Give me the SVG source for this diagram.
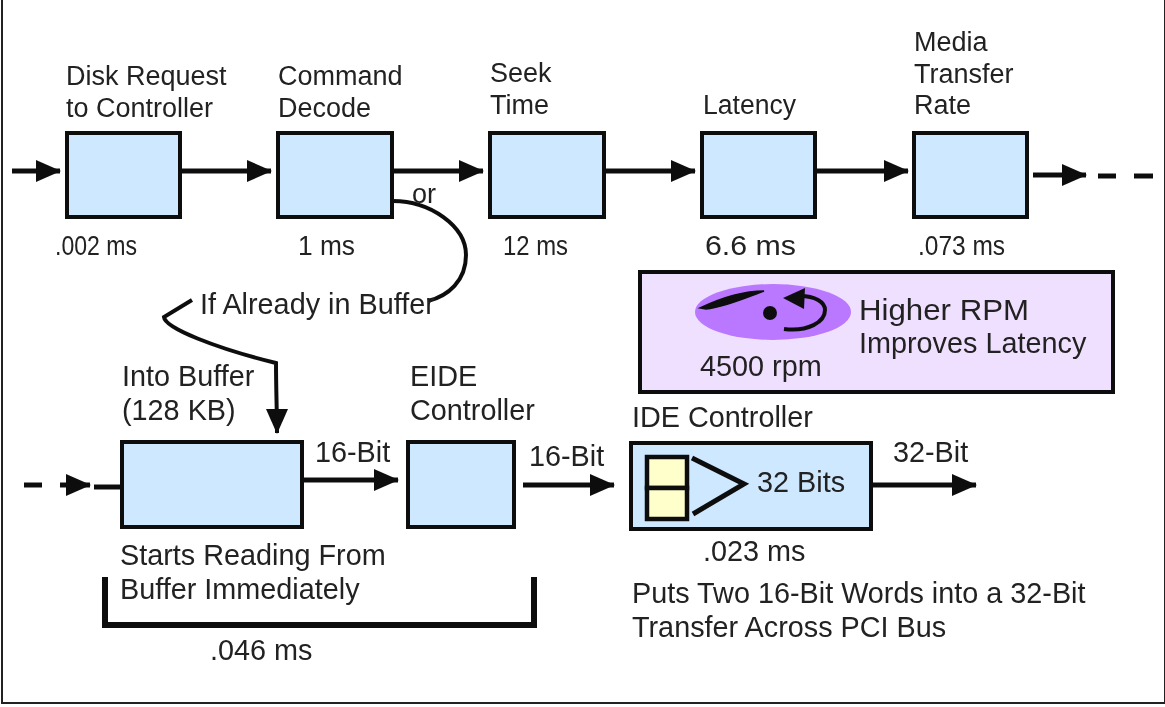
<svg xmlns="http://www.w3.org/2000/svg" width="1165" height="707" viewBox="0 0 1165 707">
<style>
text{font-family:"Liberation Sans",Arial,sans-serif;font-size:27px;fill:#222}
.w{font-size:28.8px}
.b{fill:#cde8ff;stroke:#111;stroke-width:4}
.y{fill:#ffffcc;stroke:#111;stroke-width:4.5}
.l{fill:none;stroke:#111;stroke-width:5}
.t{fill:none;stroke:#111;stroke-width:4}
</style>
<defs>
<marker id="a" markerUnits="userSpaceOnUse" markerWidth="26" markerHeight="24" refX="24" refY="12" orient="auto"><path d="M0 1L25 12L0 23Z" fill="#111"/></marker>
<filter id="soft" x="0" y="0" width="100%" height="100%"><feGaussianBlur stdDeviation="0.55"/></filter>
</defs>
<g filter="url(#soft)">
<rect x="0" y="0" width="1165" height="707" fill="#fff"/>
<rect x="2" y="-3" width="1163" height="706" fill="#fff" stroke="#222" stroke-width="2"/>
<g id="connectors">
<path class="l" marker-end="url(#a)" d="M12 171H60"/>
<path class="l" marker-end="url(#a)" d="M181 171H271"/>
<path class="l" marker-end="url(#a)" d="M393 171H483"/>
<path class="l" marker-end="url(#a)" d="M605 171H695"/>
<path class="l" marker-end="url(#a)" d="M816 171H908"/>
<path class="l" marker-end="url(#a)" d="M1033 175H1086"/>
<path class="l" d="M1098 176H1116M1134 176H1153"/>
<path class="t" d="M393 201C430 201 466 226 466 255C466 281 448 296 428 301"/>
<path class="t" marker-end="url(#a)" d="M192 300L164 317C165 328 215 348 276 363C276 390 277 410 277 433"/>
<path class="l" d="M24 485H42"/>
<path class="l" marker-end="url(#a)" d="M60 485H90"/>
<path class="l" d="M94 487H122"/>
<path class="l" marker-end="url(#a)" d="M302 480H398"/>
<path class="l" marker-end="url(#a)" d="M523 485H614"/>
<path class="l" marker-end="url(#a)" d="M873 485H976"/>
<path fill="none" stroke="#111" stroke-width="6" d="M105 577V625H534V577"/>
</g>
<g id="n1"><rect class="b" x="67" y="133" width="113" height="84"/><text x="66" y="85">Disk Request</text><text x="66" y="117">to Controller</text><text x="55" y="255" textLength="82" lengthAdjust="spacingAndGlyphs">.002 ms</text></g>
<g id="n2"><rect class="b" x="278" y="133" width="114" height="84"/><text x="278" y="85">Command</text><text x="278" y="117">Decode</text><text x="298" y="255" textLength="57" lengthAdjust="spacingAndGlyphs">1 ms</text><text x="412" y="203">or</text></g>
<g id="n3"><rect class="b" x="490" y="133" width="114" height="84"/><text x="490" y="82">Seek</text><text x="490" y="114">Time</text><text x="503" y="255" textLength="65" lengthAdjust="spacingAndGlyphs">12 ms</text></g>
<g id="n4"><rect class="b" x="702" y="133" width="113" height="84"/><text x="703" y="114" textLength="93" lengthAdjust="spacingAndGlyphs">Latency</text><text x="705" y="255" textLength="91" lengthAdjust="spacingAndGlyphs">6.6 ms</text></g>
<g id="n5"><rect class="b" x="914" y="133" width="113" height="84"/><text x="914" y="51">Media</text><text x="914" y="83">Transfer</text><text x="914" y="114">Rate</text><text x="918" y="255" textLength="87" lengthAdjust="spacingAndGlyphs">.073 ms</text></g>
<g id="rpm">
<rect x="640" y="272" width="473" height="120" fill="#f0e0ff" stroke="#111" stroke-width="4"/>
<ellipse cx="773" cy="312" rx="78" ry="28" fill="#b978ff"/>
<path d="M700 308C725 296 745 291 764 291C745 298 725 307 706 309Z" fill="#111" stroke="#111" stroke-width="1.5"/>
<circle cx="770" cy="313" r="7" fill="#111"/>
<path class="t" d="M784 329C808 332 825 322 825 310C825 302 815 296 800 296"/>
<path d="M783 298L805 288L804 309Z" fill="#111"/>
<text class="w" x="859" y="320" textLength="170" lengthAdjust="spacingAndGlyphs">Higher RPM</text><text class="w" x="859" y="353">Improves Latency</text><text class="w" x="700" y="376">4500 rpm</text>
</g>
<g id="buffer"><rect class="b" x="122" y="442" width="180" height="85"/><text class="w" x="122" y="386">Into Buffer</text><text class="w" x="122" y="420">(128 KB)</text><text class="w" x="315" y="462">16-Bit</text><text class="w" x="120" y="565">Starts Reading From</text><text class="w" x="120" y="599">Buffer Immediately</text><text class="w" x="210" y="660">.046 ms</text></g>
<g id="eide"><rect class="b" x="408" y="442" width="106" height="85"/><text class="w" x="410" y="386">EIDE</text><text class="w" x="410" y="420">Controller</text><text class="w" x="529" y="466">16-Bit</text></g>
<g id="ide"><rect class="b" x="631" y="443" width="240" height="86"/>
<rect class="y" x="647" y="457" width="40" height="31"/><rect class="y" x="647" y="488" width="40" height="31"/>
<path class="l" d="M692 458L744 484L693 514"/>
<text class="w" x="757" y="492">32 Bits</text><text class="w" x="632" y="427">IDE Controller</text><text class="w" x="893" y="462">32-Bit</text><text class="w" x="703" y="561">.023 ms</text><text class="w" x="632" y="603">Puts Two 16-Bit Words into a 32-Bit</text><text class="w" x="632" y="637">Transfer Across PCI Bus</text></g>
<g id="buffer-note"><text class="w" x="200" y="314">If Already in Buffer</text></g>
</g>
</svg>
